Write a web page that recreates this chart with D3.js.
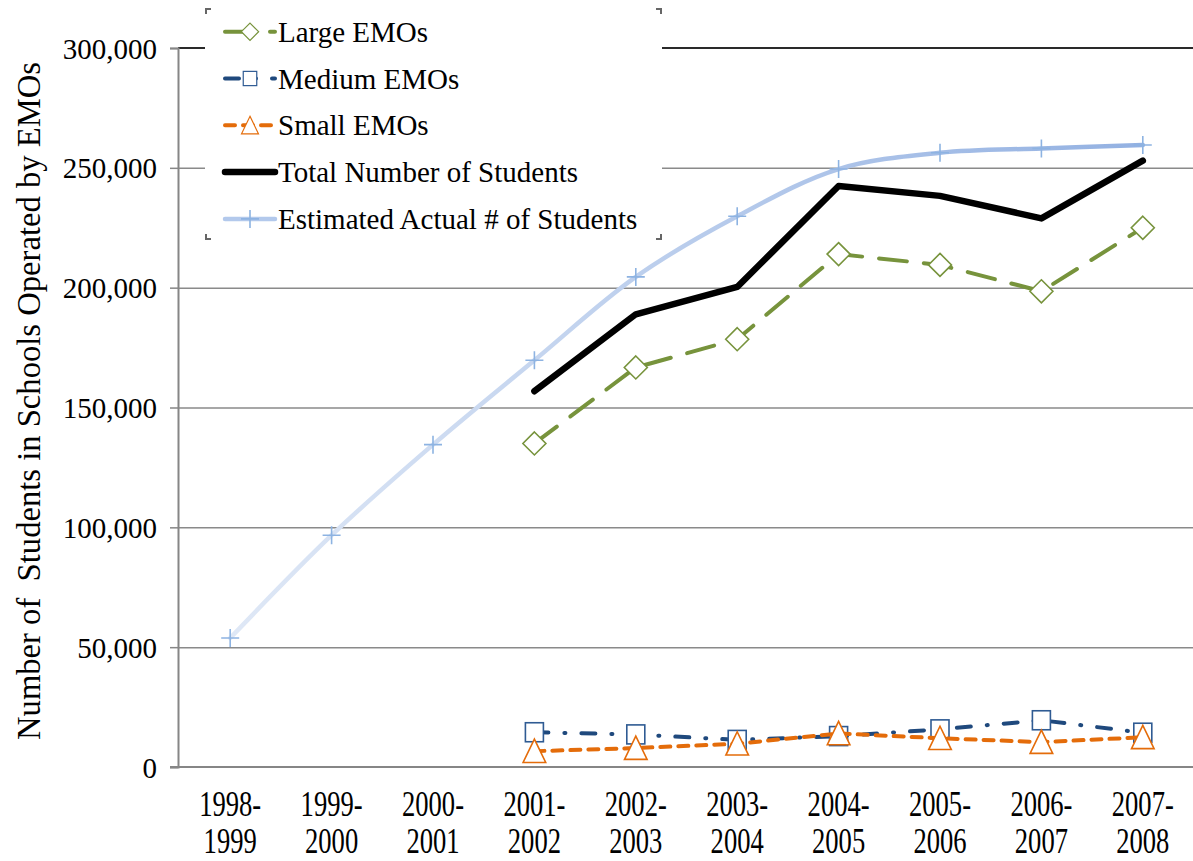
<!DOCTYPE html>
<html lang="en">
<head>
  <meta charset="UTF-8">
  <script src="https://cdn.jsdelivr.net/npm/d3@7"></script>
  <title>Students in Schools Operated by EMOs</title>
  <style>
    body { margin: 0; background: #fff; }
    text { font-family: "Liberation Serif", "Times New Roman", serif; fill: #000; }
  </style>
</head>
<body>
  <svg width="1193" height="861" id="chart"></svg>
  <script>
    // data
    const years = ["1998-1999", "1999-2000", "2000-2001", "2001-2002", "2002-2003",
                   "2003-2004", "2004-2005", "2005-2006", "2006-2007", "2007-2008"];
    const largeEMOs = [null, null, null, 135000, 166700, 178500, 214000, 209500, 198500, 225000];
    const mediumEMOs = [null, null, null, 14500, 13600, 11300, 12900, 15700, 19500, 14300];
    const smallEMOs = [null, null, null, 6600, 7900, 9700, 14000, 12000, 10400, 12400];
    const totalStudents = [null, null, null, 156800, 188900, 200300, 242400, 238300, 228900, 253000];
    const estimatedStudents = [53800, 96700, 134500, 169700, 204500, 229800, 249500, 256300, 258100, 259500];
    const yTicks = [0, 50000, 100000, 150000, 200000, 250000, 300000];

    const svg = d3.select("#chart");

    // gradient for the estimated line (light on the left, stronger on the right)
    const grad = svg.append("defs").append("linearGradient")
      .attr("id", "estGrad")
      .attr("gradientUnits", "userSpaceOnUse")
      .attr("x1", 230).attr("x2", 1145).attr("y1", 0).attr("y2", 0);
    grad.append("stop").attr("offset", "0%").attr("stop-color", "#dfe8f6");
    grad.append("stop").attr("offset", "100%").attr("stop-color", "#93b1e2");

    /* SCALES */
    const plotLeft = 178, plotRight = 1193, plotTop = 48, plotBottom = 767;
    const x = d3.scalePoint().domain(years).range([179.5, 1193.5]).padding(0.5);
    const y = d3.scaleLinear().domain([0, 300000]).range([plotBottom, plotTop]);

    // gridlines
    svg.append("g")
      .attr("transform", `translate(${plotLeft},0)`)
      .call(d3.axisLeft(y).tickValues(yTicks.slice(1, -1)).tickSize(-(plotRight - plotLeft)).tickFormat(""))
      .call(g => g.select(".domain").remove())
      .call(g => g.selectAll("line").attr("stroke", "#8a8a8a").attr("stroke-width", 1.5));

    // top border of the plot area
    svg.append("line")
      .attr("x1", plotLeft).attr("x2", plotRight).attr("y1", y(300000)).attr("y2", y(300000))
      .attr("stroke", "#2a2a2a").attr("stroke-width", 2);

    // y axis
    svg.append("g")
      .attr("transform", `translate(${plotLeft},0)`)
      .call(d3.axisLeft(y).tickValues(yTicks).tickSize(8).tickPadding(13).tickFormat(d3.format(",")))
      .call(g => g.select(".domain").attr("stroke", "#868686").attr("stroke-width", 2))
      .call(g => g.selectAll("line").attr("stroke", "#868686").attr("stroke-width", 1.5))
      .call(g => g.selectAll("text")
        .style("font-family", '"Liberation Serif", serif')
        .style("font-size", "29px").attr("fill", "#000").attr("dy", "0.35em"));

    // x axis line
    svg.append("line")
      .attr("x1", 170).attr("x2", plotRight).attr("y1", plotBottom).attr("y2", plotBottom)
      .attr("stroke", "#868686").attr("stroke-width", 2);

    // x labels (two lines, narrow)
    const xl = svg.append("g").selectAll("text")
      .data(years).enter().append("text")
      .attr("transform", d => `translate(${x(d)},0) scale(0.76,1)`)
      .attr("text-anchor", "middle")
      .style("font-size", "35px");
    xl.append("tspan").attr("x", 0).attr("y", 816).text(d => d.split("-")[0] + "-");
    xl.append("tspan").attr("x", 0).attr("y", 853).text(d => d.split("-")[1]);

    // y title
    svg.append("text")
      .attr("transform", "translate(40,401) rotate(-90)")
      .attr("text-anchor", "middle")
      .attr("textLength", 678).attr("lengthAdjust", "spacingAndGlyphs")
      .style("font-size", "33px")
      .style("white-space", "pre")
      .text("Number of  Students in Schools Operated by EMOs");

    /* SERIES */
    const series = [
      { name: "Large EMOs", values: largeEMOs, color: "#77933c", width: 4, dash: "28,17", marker: "diamond", mColor: "#77933c" },
      { name: "Medium EMOs", values: mediumEMOs, color: "#1f497d", width: 4, dash: "14,16,1,16", marker: "square", mColor: "#2f5b93" },
      { name: "Small EMOs", values: smallEMOs, color: "#e46c0a", width: 4, dash: "10,8", marker: "triangle", mColor: "#e46c0a" },
      { name: "Total Number of Students", values: totalStudents, color: "#000", width: 6.5, dash: null, marker: null },
      { name: "Estimated Actual # of Students", values: estimatedStudents, color: "url(#estGrad)", width: 4.5, dash: null, marker: "plus", mColor: "#8db3e2", smooth: true }
    ];

    function drawMarker(g, type, color) {
      if (type === "diamond") {
        g.append("path").attr("d", "M0,-11.5L11.5,0L0,11.5L-11.5,0Z")
          .attr("fill", "#fff").attr("stroke", color).attr("stroke-width", 1.6);
      } else if (type === "square") {
        g.append("rect").attr("x", -9).attr("y", -9.5).attr("width", 18).attr("height", 19)
          .attr("fill", "#fff").attr("stroke", color).attr("stroke-width", 1.6);
      } else if (type === "triangle") {
        g.append("path").attr("d", "M0,-12L11.3,11.3L-11.3,11.3Z")
          .attr("fill", "#fff").attr("stroke", color).attr("stroke-width", 1.6);
      } else if (type === "plus") {
        g.append("path").attr("d", "M-9,0H9M0,-9V9")
          .attr("stroke", color).attr("stroke-width", 1.6).attr("fill", "none");
      }
    }

    series.forEach(s => {
      const pts = years.map((yr, i) => ({ yr, v: s.values[i] })).filter(d => d.v !== null);
      const line = d3.line()
        .x(d => x(d.yr))
        .y(d => y(d.v))
        .curve(s.smooth ? d3.curveCatmullRom.alpha(0.5) : d3.curveLinear);
      svg.append("path")
        .datum(pts)
        .attr("d", line)
        .attr("fill", "none")
        .attr("stroke", s.color)
        .attr("stroke-width", s.width)
        .attr("stroke-linecap", "round")
        .attr("stroke-linejoin", "round")
        .attr("stroke-dasharray", s.dash);
      if (s.marker) {
        pts.forEach(d => {
          const g = svg.append("g").attr("transform", `translate(${x(d.yr)},${y(d.v)})`);
          drawMarker(g, s.marker, s.mColor);
        });
      }
    });

    /* LEGEND */
    const legend = svg.append("g");
    legend.append("rect")
      .attr("x", 205).attr("y", 8).attr("width", 457).attr("height", 232)
      .attr("fill", "#fff");
    // small corner handles
    const corners = [[205, 8, 1, 1], [662, 8, -1, 1], [205, 240, 1, -1], [662, 240, -1, -1]];
    corners.forEach(c => {
      legend.append("path")
        .attr("d", `M${c[0]},${c[1]}h${6 * c[2]}v${2 * c[3]}h${-4 * c[2]}v${4 * c[3]}h${-2 * c[2]}Z`)
        .attr("fill", "#666");
    });
    series.forEach((s, i) => {
      const ry = 31.7 + i * 46.8;
      const row = legend.append("g");
      row.append("line")
        .attr("x1", 225).attr("x2", 275).attr("y1", ry).attr("y2", ry)
        .attr("stroke", s.smooth ? "#b3c9ec" : s.color)
        .attr("stroke-width", s.width)
        .attr("stroke-linecap", "round")
        .attr("stroke-dasharray", s.dash);
      if (s.marker) {
        const g = row.append("g").attr("transform", `translate(250,${ry})`);
        if (s.marker === "plus") drawMarker(g, s.marker, s.mColor);
        else {
          // legend markers are a bit smaller
          g.attr("transform", `translate(250,${ry}) scale(0.75)`);
          drawMarker(g, s.marker, s.mColor);
        }
      }
      row.append("text")
        .attr("x", 278).attr("y", ry + 10)
        .style("font-size", "29px")
        .text(s.name);
    });
  </script>
</body>
</html>
